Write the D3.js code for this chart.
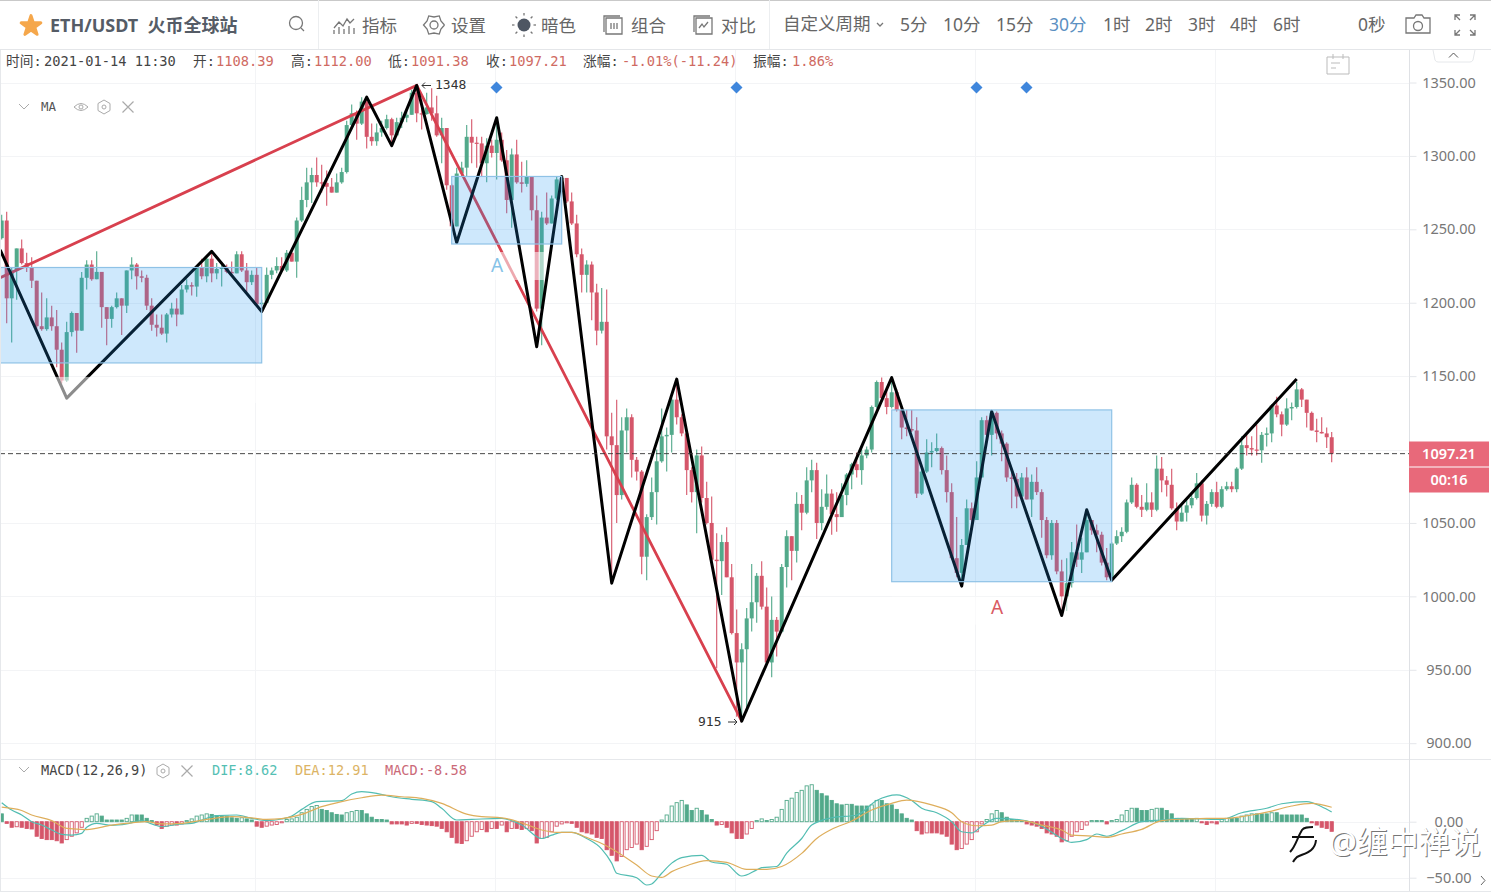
<!DOCTYPE html>
<html>
<head>
<meta charset="utf-8">
<script src="https://cdnjs.cloudflare.com/ajax/libs/d3/7.8.5/d3.min.js"></script>
<style>
body { margin: 0; background: #fff; }
svg { display: block; }
text { font-family: "Noto Sans", "Noto Sans CJK SC", sans-serif; }
.mono { font-family: "DejaVu Sans Mono", "Noto Sans CJK SC", monospace; }
.axis path { display: none; }
.axis line { stroke: #e4e6ea; }
.axis text { font-family: "Noto Sans", sans-serif; font-size: 14.5px; fill: #777; }
.icon { fill: none; stroke: #777; stroke-width: 1.3; }
</style>
</head>
<body>
<svg id="chart" width="1491" height="895"></svg>
<script>
var firstOpen = 1244;
var closes = [1256,
1203,1222,1237,1227,1224,1215,1184,1182,1190,
1184,1168,1147,1180,1193,1181,1217,1226,1216,1221,
1197,1189,1197,1203,1198,1222,1226,1218,1217,1198,
1185,1183,1179,1192,1196,1192,1209,1212,1211,1224,
1218,1230,1220,1223,1224,1221,1220,1233,1222,1214,
1219,1199,1200,1219,1222,1225,1222,1234,1228,1256,
1270,1282,1287,1282,1281.5,1279,1275,1282,1289,1321,
1329,1322,1337,1313,1310,1316,1319,1325,1314,1323,
1326,1328,1343,1329,1328.5,1333,1329,1314,1319,1280,
1252,1288,1292,1313,1309,1308.5,1295,1307,1302,1311,
1297,1270,1301,1282,1281,1286,1263,1196,1258,1254,
1271,1284,1285,1269,1254,1233,1219,1226,1207,1181,
1187,1109,1103,1069,1113,1122,1093,1085,1027,1054,
1071,1092,1109,1110,1134,1122,1111,1086,1071,1096,
1067,1050,1025,1024,1037,1013,975,955,964,985,
996,1014,993,955,984,976,1020,1041,1031,1063,
1057,1079,1086,1050,1061,1070,1056,1054,1069,1083,
1090,1086,1096,1100,1129,1146,1135,1129,1139,1127,
1115,1114,1113,1070,1085,1098,1099,1101,1086,1071,
1026,1016,1035,1060,1052,1081,1120,1110,1125,1111,
1104,1081,1080,1068,1081,1066,1078,1071,1052,1028,
1050,1017,1000,1009,1030,1025,1030,1052,1045,1042,
1023,1013,1036,1041,1044,1064,1076,1061,1059,1064,
1059,1087,1079,1076,1060,1051,1057,1062,1067,1077,
1055,1063,1071,1061,1073,1075,1073,1087,1103,1101,
1100,1099.5,1110,1111,1130,1124,1117,1128,1129,1141,
1134,1125,1113,1112,1111,1108.39,1097.21];

var highs = [1260,
1262,1224,1237,1243,1234,1231,1215,1207,1203,
1198,1195,1173,1187,1194,1193,1221,1229,1229,1235,
1221,1197,1198,1207,1203,1222,1231,1227,1222,1219,
1203,1192,1192,1193,1200,1203,1212,1216,1214,1224,
1230,1231,1235,1227,1227,1226,1228,1235,1235,1227,
1222,1224,1202,1224,1224,1231,1231,1236,1235,1258,
1279,1292,1292,1299,1294,1290,1285,1288,1292,1324,
1335,1331,1340,1338,1322,1322,1324,1328,1326,1326,
1330,1333,1345,1348,1338,1343,1346,1341,1326,1319,
1281,1292,1296,1321,1325,1313,1313,1312,1311,1326,
1316,1304,1305,1311,1296,1297,1286,1273,1262,1275,
1273,1286,1287,1277,1275,1260,1237,1229,1228,1213,
1210,1209,1125,1134,1122,1128,1124,1095,1086,1056,
1081,1100,1128,1115,1135,1147,1124,1113,1088,1100,
1102,1078,1068,1043,1042,1047,1022,991,968,992,
1022,1016,1024,1006,1000,986,1022,1045,1041,1071,
1069,1088,1093,1091,1073,1083,1073,1071,1077,1084,
1091,1098,1100,1102,1130,1147,1149,1141,1150,1141,
1128,1127,1127,1122,1086,1107,1105,1111,1102,1096,
1077,1054,1039,1066,1064,1092,1122,1123,1126,1126,
1113,1105,1084,1084,1084,1088,1083,1088,1073,1054,
1052,1052,1025,1026,1037,1049,1040,1059,1051,1049,
1044,1033,1037,1045,1047,1066,1081,1077,1069,1077,
1071,1096,1095,1082,1087,1064,1062,1066,1071,1084,
1079,1065,1073,1078,1075,1078,1078,1088,1109,1110,
1109,1117,1112,1115,1131,1136,1126,1135,1132,1146,
1142,1134,1126,1121,1122,1115,1112];

var lows = [1243,
1186,1173,1202,1226,1221,1210,1181,1181,1181,
1181,1156,1145,1146,1177,1166,1181,1209,1215,1216,
1183,1171,1183,1196,1178,1193,1216,1209,1214,1195,
1181,1177,1178,1173,1190,1184,1192,1207,1205,1204,
1216,1214,1214,1216,1211,1220,1220,1220,1221,1207,
1212,1198,1198,1200,1216,1220,1221,1221,1228,1217,
1255,1265,1268,1279,1275,1266,1275,1275,1281,1288,
1320,1311,1321,1305,1307,1307,1313,1318,1307,1313,
1319,1323,1328,1323,1318,1328,1324,1313,1295,1277,
1251,1252,1286,1286,1295,1292,1286,1282,1299,1284,
1296,1261,1251,1281,1275,1279,1256,1194,1171,1253,
1254,1270,1280,1268,1253,1231,1207,1207,1188,1171,
1179,1100,1011,1050,1066,1098,1081,1079,1015,1011,
1052,1049,1091,1085,1098,1117,1109,1069,1064,1043,
1064,1049,1024,951,1001,1013,974,918,915,921,
976,982,991,954,945,959,975,1006,1011,1023,
1045,1056,1071,1039,1045,1059,1042,1044,1054,1062,
1073,1081,1076,1094,1098,1128,1134,1124,1128,1126,
1107,1109,1112,1067,1069,1084,1088,1098,1083,1064,
1025,1013,1009,1035,1049,1052,1081,1109,1096,1107,
1092,1078,1060,1060,1068,1066,1054,1069,1040,1026,
1025,1015,990,990,1006,1020,1016,1030,1042,1030,
1021,1011,1010,1035,1037,1043,1063,1060,1054,1058,
1054,1058,1071,1068,1059,1045,1051,1051,1060,1066,
1051,1049,1061,1060,1060,1072,1071,1071,1086,1096,
1096,1096,1091,1102,1105,1122,1109,1116,1120,1128,
1129,1115,1113,1105,1111,1101,1091.38];

var macdBars = [7,-1.5,-5,-4.5,-5,-6,-6.5,-13,-15,-16,
-16,-17,-19,-16,-13,-10,-5,3,5,7,
5,1.5,1.5,1.5,1.5,3,6,6,6,3,
1,-3,-6,-4,-3,-3,-2,1,2.5,5,
6,7,6.5,5.5,5,5,3.5,3,3.5,2.5,
1.5,-4,-5,-4,-3,-2.5,-1,2,2.5,4,
8,11,13.5,14.5,11,10,8,6.5,6,8,
9,10,10,7,4,2,2,1.5,-2,-2,
-2,-3,-1.5,-1.5,-2.5,-3,-3.5,-4,-6,-9,
-14,-19,-19.5,-17,-13,-9,-7,-9,-6,-6,
-3,-9,-6,-6,-7,-6,-8,-19,-15,-14,
-9,-4,-2,-1,-1.5,-5,-9,-10,-11,-14,
-15,-25,-30,-35,-31,-25,-23,-20,-25,-22,
-16,-8,1.5,6,14,17,19,15,10,12,
10,6,2,-3,-2.5,-5,-10,-15,-15,-11,
-6,1,2.5,1,2,4,11,19,21,26,
28,32,33,28,25,23,19,16,15,15.5,
15.5,14,14,14,15,19,19,16,15,11,
7,3,1.5,-8,-11,-10,-10,-10,-11,-13,
-20,-25,-24,-20,-16,-9,-2,2,7,10,
8,4,2,1.5,0.5,-2,-3,-4,-6,-10,
-11,-13,-18,-17,-13,-9,-7,-3,1,1,
1,-2,1,2,6,10,12,12,10,10,
11,12,12,10,7,3,2,2,2,3,
-1,-2.5,-1,-2,2,3,3,3,5,6,
7,7,7,7,8,8,6,6,6,6,
6,3,-1,-3,-5,-6,-8.58];

// read at every bend of the two lines, index = candle number
var difIdx = [0,2,4,6,8,10,12,14,16,17,19,22,25,28,30,32,35,38,40,43,47,50,53,56,58,60,63,68,70,72,75,78,82,86,88,91,94,100,104,108,110,112,114,117,120,122,123,127,129,130,132,134,136,140,142,145,148,151,152,155,157,160,162,166,171,175,179,182,184,187,190,192,194,196,199,204,208,212,214,217,219,221,224,228,232,236,240,244,248,253,256,261,264,266];
var difVal = [17,10.4,6,0,-3,-7.4,-11.3,-12,-10.4,-5,-1.5,-3.3,-2,1,-2,-4.5,-2.4,-1.5,1.5,5.4,6,3,1,2.4,5,11,18,18.8,24.7,26.8,25.3,22.3,20,18,12,1.5,2,3,-3,-15,-12,-9.5,-9.5,-15,-24.4,-37,-46,-50,-56.5,-55.6,-46,-37,-32,-30,-36,-38,-48.5,-43,-41,-40,-28,-15,-3,3.5,6,19,24,19,12,8,0,-9,-10,-4,3,1.5,-4,-15,-18.5,-16,-11,-13,-8,0,1.5,3,2.4,2,8,12,16,18,13.4,8.62];
var deaIdx = [0,4,6,10,13,17,22,26,29,32,36,41,46,50,53,56,60,64,68,72,76,80,84,88,93,96,100,104,108,111,114,117,120,123,127,130,132,134,137,141,145,149,153,156,160,163,166,170,174,178,181,186,190,192,195,198,200,204,208,212,214,218,221,224,228,232,237,241,245,250,254,258,262,266];
var deaVal = [13,10,6,1,-6,-7,-3,-1,0,-2,-1.5,2,4.5,3.5,2,2.7,6.5,13.4,18,21.4,23.8,22.3,20.8,16.4,6.8,4.5,3.5,-1,-7.4,-9.5,-9.5,-14,-19.4,-26.8,-38.7,-48.5,-49.7,-44.6,-39.3,-34.8,-36.3,-42.6,-42.6,-40,-28.3,-15,-6.8,0.6,10.4,16.4,19.3,15,8,0,-3.6,-3,0,1,-3,-7.4,-12,-12.8,-14,-11,-6.8,1,2.4,3,3,6,9.5,14,16.4,12.91];

var gridPrices = [900,950,1000,1050,1100,1150,1200,1250,1300,1350];
var priceTicks = [900,950,1000,1050,1150,1200,1250,1300,1350];
var macdTicks = [0,-50];
var vGridIdx = [51,99,147,195,243];
var diamondIdx = [99,147,195,205];

var blackIdx = [-0.3,13,42,52,73,78,83,91,99,107,112,122,135,148,178,192,198,212,217,222,259];
var blackPrice = [1236,1135,1235,1194,1340,1307,1348,1241,1326,1170,1286,1009,1148,915,1149,1007,1126,987,1059,1011,1148];
var redIdx = [-0.3,83,148];
var redPrice = [1217,1348,915];

var boxFrom = [-1,90,178];
var boxTo = [52,112,222];
var boxTop = [1224,1286,1127];
var boxBottom = [1159,1240,1010];

var periods = ["5分","10分","15分","30分","1时","2时","3时","4时","6时"];
var periodX = [900,943,996,1049,1103,1145,1188,1230,1273];

var upColor = "#52a98a", downColor = "#d5566a";
var tipRed = "#e8697a";

var svg = d3.select("#chart");
var x = d3.scaleLinear().domain([0, 266]).range([1.7, 1331.7]);
var y = d3.scaleLinear().domain([900, 1350]).range([743.2, 82.5]);
var my = d3.scaleLinear().domain([-50, 0]).range([877.7, 821.7]);
var right = 1409;

var opens = closes.map(function (c, i) { return i == 0 ? firstOpen : closes[i - 1]; });
var indexes = d3.range(closes.length);

svg.append("clipPath").attr("id", "mainClip").append("rect")
    .attr("x", 0).attr("y", 50).attr("width", right).attr("height", 709);
svg.append("clipPath").attr("id", "macdClip").append("rect")
    .attr("x", 0).attr("y", 760).attr("width", right).attr("height", 131);

// grid
var grid = svg.append("g");
grid.selectAll(".h").data(gridPrices).enter().append("line")
    .attr("x1", 0).attr("x2", right)
    .attr("y1", function (d) { return Math.round(y(d)) + 0.5; })
    .attr("y2", function (d) { return Math.round(y(d)) + 0.5; })
    .attr("stroke", "#f3f4f6");
grid.selectAll(".m").data(macdTicks).enter().append("line")
    .attr("x1", 0).attr("x2", right)
    .attr("y1", function (d) { return Math.round(my(d)) + 0.5; })
    .attr("y2", function (d) { return Math.round(my(d)) + 0.5; })
    .attr("stroke", "#f3f4f6");
grid.selectAll(".v").data(vGridIdx).enter().append("line")
    .attr("x1", function (d) { return Math.round(x(d)) - 1.5; })
    .attr("x2", function (d) { return Math.round(x(d)) - 1.5; })
    .attr("y1", 50).attr("y2", 891)
    .attr("stroke", "#f3f4f6");

// candles
var main = svg.append("g").attr("clip-path", "url(#mainClip)");
var candle = main.append("g").selectAll("g").data(indexes).enter().append("g")
    .attr("fill", function (i) { return closes[i] >= opens[i] ? upColor : downColor; })
    .attr("stroke", function (i) { return closes[i] >= opens[i] ? upColor : downColor; });
candle.append("line")
    .attr("x1", function (i) { return x(i); })
    .attr("x2", function (i) { return x(i); })
    .attr("y1", function (i) { return y(highs[i]); })
    .attr("y2", function (i) { return y(lows[i]); })
    .attr("stroke-width", 1.1);
candle.append("rect")
    .attr("x", function (i) { return x(i) - 2; })
    .attr("width", 4)
    .attr("y", function (i) { return y(Math.max(opens[i], closes[i])); })
    .attr("height", function (i) { return Math.max(1.2, Math.abs(y(opens[i]) - y(closes[i]))); })
    .attr("stroke", "none");

var strokeLine = d3.line()
    .x(function (i) { return x(i.idx); })
    .y(function (i) { return y(i.price); });

function zip(idx, price) {
    return idx.map(function (d, i) { return { idx: d, price: price[i] }; });
}

main.append("path").attr("d", strokeLine(zip(redIdx, redPrice)))
    .attr("fill", "none").attr("stroke", "#d8404e").attr("stroke-width", 2.8);

// pale strips under the boxes, behind the label text
function fade(parent, b, fromY, toY) {
    parent.append("rect")
        .attr("x", Math.max(0, x(boxFrom[b]))).attr("width", x(boxTo[b]) - Math.max(0, x(boxFrom[b])))
        .attr("y", y(boxBottom[b]) + fromY).attr("height", toY - fromY)
        .attr("fill", "#fff").attr("opacity", 0.55);
}
fade(main, 1, 8, 36);
fade(main, 2, 15, 43);

main.append("path").attr("d", strokeLine(zip(blackIdx, blackPrice)))
    .attr("fill", "none").attr("stroke", "#000").attr("stroke-width", 3)
    .attr("stroke-linejoin", "round");

fade(main, 0, 14, 40);

main.selectAll(".box").data(boxFrom).enter().append("rect")
    .attr("x", function (d) { return x(d); })
    .attr("width", function (d, i) { return x(boxTo[i]) - x(d); })
    .attr("y", function (d, i) { return y(boxTop[i]); })
    .attr("height", function (d, i) { return y(boxBottom[i]) - y(boxTop[i]); })
    .attr("fill", "rgba(33,150,243,0.22)")
    .attr("stroke", "#8fc2e6").attr("stroke-width", 1.2);

// last price line
main.append("line").attr("x1", 0).attr("x2", right)
    .attr("y1", y(1097.21)).attr("y2", y(1097.21))
    .attr("stroke", "#333").attr("stroke-dasharray", "5,3").attr("stroke-width", 0.9);

main.selectAll(".d").data(diamondIdx).enter().append("path")
    .attr("d", "M0,-6L6,0L0,6L-6,0Z")
    .attr("transform", function (d) { return "translate(" + (x(d) - 0.2) + ",87.5)"; })
    .attr("fill", "#3f86dc");

svg.append("text").text("A").attr("x", 497).attr("y", 272).attr("text-anchor", "middle")
    .attr("font-size", 19).attr("fill", "#85c3e8");
svg.append("text").text("A").attr("x", 997).attr("y", 614).attr("text-anchor", "middle")
    .attr("font-size", 19).attr("fill", "#d95a62");
svg.append("text").attr("class", "mono").text("1348").attr("x", 435).attr("y", 89)
    .attr("font-size", 13).attr("fill", "#333");
svg.append("path").attr("d", "M431,85.5H422M425,82.5L422,85.5L425,88.5").attr("fill", "none").attr("stroke", "#333");
svg.append("text").attr("class", "mono").text("915").attr("x", 698).attr("y", 726)
    .attr("font-size", 13).attr("fill", "#333");
svg.append("path").attr("d", "M728,722H737M734,719L737,722L734,725").attr("fill", "none").attr("stroke", "#333");

// MACD panel
var sub = svg.append("g").attr("clip-path", "url(#macdClip)");
sub.selectAll("rect").data(macdBars).enter().append("rect")
    .attr("x", function (d, i) { return x(i) - 1.6; })
    .attr("width", 3.2)
    .attr("y", function (d) { return d > 0 ? my(d) : my(0); })
    .attr("height", function (d) { return Math.abs(my(d) - my(0)); })
    .attr("fill", function (d, i) {
        if (i > 0 && d > macdBars[i - 1]) return "#fff";
        return d > 0 ? upColor : downColor;
    })
    .attr("stroke", function (d) { return d > 0 ? upColor : downColor; })
    .attr("stroke-width", 0.9);

var macdLine = d3.line()
    .x(function (d) { return x(d.idx); })
    .y(function (d) { return my(d.price); })
    .curve(d3.curveMonotoneX);
sub.append("path").attr("d", macdLine(zip(difIdx, difVal)))
    .attr("fill", "none").attr("stroke", "#52bdb2").attr("stroke-width", 1.2);
sub.append("path").attr("d", macdLine(zip(deaIdx, deaVal)))
    .attr("fill", "none").attr("stroke", "#deae5c").attr("stroke-width", 1.2);

// panel frame
svg.append("line").attr("x1", 0).attr("x2", 1491).attr("y1", 759.5).attr("y2", 759.5).attr("stroke", "#e6e8eb");
svg.append("line").attr("x1", 0).attr("x2", 1491).attr("y1", 891.5).attr("y2", 891.5).attr("stroke", "#e6e8eb");
svg.append("line").attr("x1", right + 0.5).attr("x2", right + 0.5).attr("y1", 50).attr("y2", 891).attr("stroke", "#dfe1e5");
svg.append("line").attr("x1", 0.5).attr("x2", 0.5).attr("y1", 50).attr("y2", 891).attr("stroke", "#e6e8eb");

// axes
svg.append("g").attr("class", "axis").attr("transform", "translate(" + (right + 0.5) + ",0)")
    .call(d3.axisRight(y).tickValues(priceTicks).tickSize(7).tickPadding(6).tickFormat(d3.format(".2f")));
svg.append("g").attr("class", "axis").attr("transform", "translate(" + (right + 0.5) + ",0)")
    .call(d3.axisRight(my).tickValues(macdTicks).tickSize(7).tickPadding(6).tickFormat(d3.format(".2f")));
svg.selectAll(".axis text").attr("x", 39.5).attr("text-anchor", "middle");

// last price tags
svg.append("rect").attr("x", right).attr("y", 441.5).attr("width", 80).attr("height", 25).attr("fill", tipRed);
svg.append("rect").attr("x", right).attr("y", 467.5).attr("width", 80).attr("height", 25).attr("fill", tipRed);
svg.append("text").text("1097.21").attr("x", 1449).attr("y", 458.5).attr("text-anchor", "middle")
    .attr("font-size", 14.5).attr("font-weight", 600).attr("fill", "#fff");
svg.append("text").text("00:16").attr("x", 1449).attr("y", 485).attr("text-anchor", "middle")
    .attr("font-size", 14.5).attr("font-weight", 600).attr("fill", "#fff");

// toolbar
var bar = svg.append("g");
bar.append("rect").attr("width", 1491).attr("height", 49.5).attr("fill", "#fff");
bar.append("line").attr("x1", 0).attr("x2", 1491).attr("y1", 0.5).attr("y2", 0.5).attr("stroke", "#c9c9c9");
bar.append("line").attr("x1", 0).attr("x2", 1491).attr("y1", 49.5).attr("y2", 49.5).attr("stroke", "#e4e6e9");
[318.5, 769.5].forEach(function (d) {
    bar.append("line").attr("x1", d).attr("x2", d).attr("y1", 0).attr("y2", 49).attr("stroke", "#eceef0");
});

var star = d3.symbol().type(d3.symbolStar).size(120);
bar.append("path").attr("d", star()).attr("transform", "translate(31,26)")
    .attr("fill", "#f5a74b").attr("stroke", "#f5a74b").attr("stroke-width", 3).attr("stroke-linejoin", "round");
bar.append("text").text("ETH/USDT  火币全球站").attr("x", 50).attr("y", 32)
    .attr("font-size", 18).attr("font-weight", 700).attr("fill", "#555c66").attr("xml:space", "preserve");

function toolText(t, px, py, color) {
    bar.append("text").text(t).attr("x", px).attr("y", py).attr("font-size", 17.5)
        .attr("fill", color || "#666");
}
toolText("指标", 362, 32);
toolText("设置", 451, 32);
toolText("暗色", 541, 32);
toolText("组合", 631, 32);
toolText("对比", 721, 32);
toolText("自定义周期", 783, 30);
periods.forEach(function (p, i) {
    toolText(p, periodX[i], 31, p == "30分" ? "#5b90c2" : "#666");
});
toolText("0秒", 1358, 31);

function icon(d, tx, ty) {
    return bar.append("path").attr("class", "icon").attr("d", d)
        .attr("transform", "translate(" + tx + "," + ty + ")");
}
bar.append("circle").attr("class", "icon").attr("cx", 296).attr("cy", 23).attr("r", 6.5);
icon("M5,5L8,8", 296, 23);
icon("M-10,3L-5,-3L-1,1L3,-6L6,-2L10,-6M-10,9V5M-5,9V2M0,9V4M5,9V1M10,9V3", 344, 25);
// settings gear
bar.append("path").attr("class", "icon").attr("d", d3.line()(d3.range(13).map(function (i) {
    var r = i % 2 ? 8 : 10.5, a = i * Math.PI / 6;
    return [434 + r * Math.cos(a), 25 + r * Math.sin(a)];
})));
bar.append("circle").attr("class", "icon").attr("cx", 434).attr("cy", 25).attr("r", 4);
// dark mode sun
bar.append("circle").attr("cx", 524).attr("cy", 25).attr("r", 6.5).attr("fill", "#4e5663");
d3.range(8).forEach(function (i) {
    var a = i * Math.PI / 4;
    bar.append("line").attr("class", "icon")
        .attr("x1", 524 + 9.5 * Math.cos(a)).attr("y1", 25 + 9.5 * Math.sin(a))
        .attr("x2", 524 + 12 * Math.cos(a)).attr("y2", 25 + 12 * Math.sin(a));
});
icon("M-7,-7H9V9H-7ZM-9,7V-9H7M-2,-2V4M1,-2V4M4,-2V4", 613, 25);
icon("M-7,-7H9V9H-7ZM-9,7V-9H7M-4,3L-1,-1L1,2L5,-3", 703, 25);
icon("M-3,-2L0,1L3,-2", 880, 25);
icon("M-12,-7H-4L-2,-10H4L6,-7H12V8H-12Z", 1418, 25);
bar.append("circle").attr("class", "icon").attr("cx", 1418).attr("cy", 26).attr("r", 4.5);
icon("M-10,-5V-10H-5M-10,-10L-5,-5M5,-10H10V-5M10,-10L5,-5M-10,5V10H-5M-10,10L-5,5M5,10H10V5M10,10L5,5", 1465, 25);

// info row
var infoLabels = ["时间:", "开:", "高:", "低:", "收:", "涨幅:", "振幅:"];
var infoLabelX = [6, 193, 291, 388, 486, 583, 753];
var infoValues = ["2021-01-14 11:30", "1108.39", "1112.00", "1091.38", "1097.21", "-1.01%(-11.24)", "1.86%"];
var infoValueX = [44, 216, 314, 411, 509, 622, 792];
infoLabels.forEach(function (t, i) {
    svg.append("text").attr("class", "mono").text(t).attr("x", infoLabelX[i]).attr("y", 66)
        .attr("font-size", 13.7).attr("fill", "#444");
    svg.append("text").attr("class", "mono").text(infoValues[i]).attr("x", infoValueX[i]).attr("y", 66)
        .attr("font-size", 13.7).attr("fill", i == 0 ? "#444" : "#cf6a62");
});

// indicator legends
function legendIcons(tx, ty, eye) {
    var c = svg.append("g").attr("transform", "translate(" + tx + "," + ty + ")");
    var k = 0;
    if (eye) {
        c.append("path").attr("d", "M-7,0Q0,-7 7,0Q0,7 -7,0Z").attr("fill", "none").attr("stroke", "#aaa");
        c.append("circle").attr("r", 2).attr("fill", "none").attr("stroke", "#aaa");
        k = 23;
    }
    c.append("path").attr("d", "M" + k + ",-7L" + (k + 6) + ",-3.5V3.5L" + k + ",7L" + (k - 6) + ",3.5V-3.5Z")
        .attr("fill", "none").attr("stroke", "#aaa");
    c.append("circle").attr("cx", k).attr("r", 2).attr("fill", "none").attr("stroke", "#aaa");
    var e = k + 24;
    c.append("path").attr("d", "M" + (e - 5.5) + ",-5.5L" + (e + 5.5) + ",5.5M" + (e - 5.5) + ",5.5L" + (e + 5.5) + ",-5.5")
        .attr("stroke", "#aaa").attr("stroke-width", 1.2);
}
[107, 770].forEach(function (d) {
    svg.append("path").attr("d", "M19," + (d - 3) + "L24," + (d + 2) + "L29," + (d - 3))
        .attr("fill", "none").attr("stroke", "#aaa");
});
svg.append("text").attr("class", "mono").text("MA").attr("x", 41).attr("y", 111).attr("font-size", 12.5).attr("fill", "#555");
legendIcons(81, 107, true);
svg.append("text").attr("class", "mono").text("MACD(12,26,9)").attr("x", 41).attr("y", 775).attr("font-size", 13.6).attr("fill", "#444");
legendIcons(163, 771, false);
svg.append("text").attr("class", "mono").text("DIF:8.62").attr("x", 212).attr("y", 775).attr("font-size", 13.6).attr("fill", "#55bfb4");
svg.append("text").attr("class", "mono").text("DEA:12.91").attr("x", 295).attr("y", 775).attr("font-size", 13.6).attr("fill", "#dcb465");
svg.append("text").attr("class", "mono").text("MACD:-8.58").attr("x", 385).attr("y", 775).attr("font-size", 13.6).attr("fill", "#cb6a78");

// small widgets
svg.append("path").attr("d", "M1327,57H1349V74H1327ZM1333,54V59M1343,54V59M1331,63H1340M1331,68H1336")
    .attr("fill", "none").attr("stroke", "#bbb");
svg.append("path").attr("d", "M1433,50L1435,60Q1436,62 1438,62H1470Q1472,62 1473,60L1475,50")
    .attr("fill", "#fff").attr("stroke", "#e6e8eb");
svg.append("path").attr("d", "M1449,57.5L1453.5,53L1458,57.5").attr("fill", "none").attr("stroke", "#555");
svg.append("path").attr("d", "M1481,876L1485,880.5L1481,885").attr("fill", "none").attr("stroke", "#666");

// watermark
var markPath = "M1290,852C1296,846 1297,838 1302,830C1304,827 1308,827 1313,827M1292,837H1314M1316,840C1315,852 1305,853 1297,857C1295,859 1294,860 1293,862";
svg.append("path").attr("d", markPath).attr("fill", "none").attr("stroke", "#111").attr("stroke-width", 2);
svg.append("text").text("@缠中禅说").attr("x", 1330).attr("y", 854).attr("font-size", 31).attr("fill", "#555").attr("opacity", 0.8);
svg.append("text").text("@缠中禅说").attr("x", 1329).attr("y", 853).attr("font-size", 31).attr("fill", "#fff");
</script>
</body>
</html>
